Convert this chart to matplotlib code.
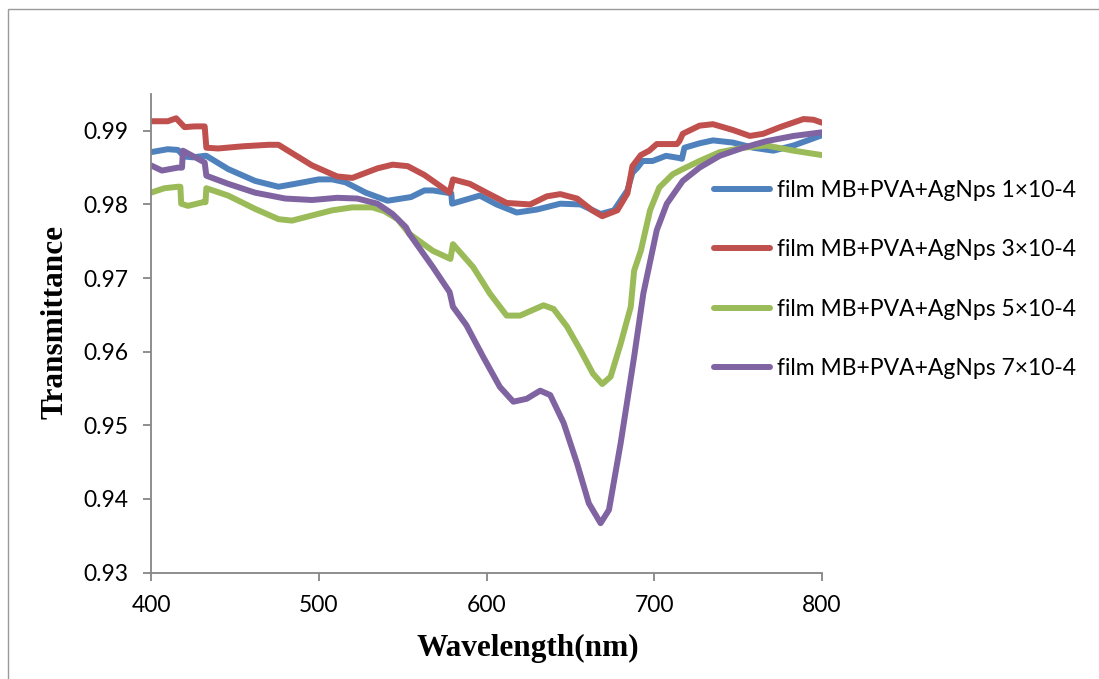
import numpy as np
import matplotlib
matplotlib.use("Agg")
import matplotlib.pyplot as plt
from matplotlib.patches import Rectangle

# wavelength (nm) / transmittance
wl_1 = [400, 410, 416, 420, 425, 432, 433, 446, 462, 476, 486, 500, 508, 516, 528, 541, 555, 563,
        568, 579, 579.5, 596, 606, 618, 630, 644, 656, 668, 676, 684, 687, 690, 693, 699, 707, 715,
        716.5, 718, 727, 735, 747, 759, 771, 783, 800]
tr_1 = [0.9871, 0.9875, 0.9874, 0.9865, 0.9864, 0.9866, 0.9866, 0.9848, 0.9832, 0.9824, 0.9828,
        0.9834, 0.9834, 0.9830, 0.9816, 0.9805, 0.9810, 0.9819, 0.9819, 0.9815, 0.9801, 0.9812,
        0.9800, 0.9789, 0.9793, 0.9801, 0.9800, 0.9787, 0.9792, 0.9819, 0.9843, 0.9850, 0.9859,
        0.9859, 0.9866, 0.9863, 0.9862, 0.9877, 0.9883, 0.9887, 0.9884, 0.9877, 0.9873, 0.9880,
        0.9894]

wl_3 = [400, 410, 415, 420, 426, 432, 433, 440, 455, 470, 476, 496, 511, 520, 535, 544, 553, 563,
        578, 580, 590, 600, 612, 626, 636, 644, 654, 663, 669, 678, 684, 687, 692, 697, 701.5,
        713.5, 715, 717, 727, 735, 747, 757, 765, 775, 789, 795, 800]
tr_3 = [0.9913, 0.9913, 0.9917, 0.9905, 0.9906, 0.9906, 0.9877, 0.9876, 0.9879, 0.9881, 0.9881,
        0.9853, 0.9838, 0.9836, 0.9849, 0.9854, 0.9852, 0.9840, 0.9816, 0.9834, 0.9828, 0.9816,
        0.9802, 0.9800, 0.9811, 0.9814, 0.9808, 0.9792, 0.9784, 0.9792, 0.9815, 0.9852, 0.9867,
        0.9873, 0.9882, 0.9882, 0.9886, 0.9896, 0.9907, 0.9909, 0.9901, 0.9893, 0.9896, 0.9905,
        0.9916, 0.9915, 0.9911]

wl_5 = [400, 408, 416, 417.5, 418, 422, 431, 432.5, 433, 446, 462, 476, 484, 496, 508, 520, 532,
        539, 547, 554, 568, 578.5, 580, 592, 602, 612, 620, 634, 640, 648, 656, 663.5, 669, 674,
        680, 686, 688, 692, 697.5, 703, 711, 717, 727, 739, 753, 767, 783, 800]
tr_5 = [0.9816, 0.9822, 0.9824, 0.9824, 0.9801, 0.9798, 0.9803, 0.9803, 0.9822, 0.9812, 0.9794,
        0.9780, 0.9778, 0.9785, 0.9792, 0.9796, 0.9796, 0.9791, 0.9780, 0.9760, 0.9737, 0.9726,
        0.9746, 0.9715, 0.9679, 0.9649, 0.9649, 0.9663, 0.9658, 0.9634, 0.9602, 0.9570, 0.9556,
        0.9566, 0.9611, 0.9661, 0.9710, 0.9737, 0.9792, 0.9823, 0.9841, 0.9848, 0.9859, 0.9871,
        0.9877, 0.9880, 0.9873, 0.9867]

wl_7 = [400, 406.5, 416, 418.5, 419, 432, 433, 446, 462, 480, 496, 511, 523, 535, 544, 552, 554,
        568, 578, 580, 588, 598, 608, 616, 624, 632, 638, 646, 654, 661, 668, 673, 680, 688, 693.5,
        701.5, 707.5, 717, 727, 739, 753, 767, 783, 800]
tr_7 = [0.9853, 0.9846, 0.9850, 0.9850, 0.9873, 0.9857, 0.9839, 0.9828, 0.9816, 0.9808, 0.9806,
        0.9809, 0.9808, 0.9801, 0.9787, 0.9769, 0.9760, 0.9715, 0.9681, 0.9661, 0.9636, 0.9593,
        0.9552, 0.9532, 0.9536, 0.9547, 0.9541, 0.9503, 0.9448, 0.9394, 0.9367, 0.9385, 0.9476,
        0.9593, 0.9679, 0.9765, 0.9801, 0.9832, 0.9850, 0.9866, 0.9877, 0.9886, 0.9893, 0.9898]

labels = ["film MB+PVA+AgNps 1×10-4", "film MB+PVA+AgNps 3×10-4",
          "film MB+PVA+AgNps 5×10-4", "film MB+PVA+AgNps 7×10-4"]
colors = ["#4F81BD", "#C0504D", "#9BBB59", "#8064A2"]

x_ticks = [400, 500, 600, 700, 800]
y_ticks = [0.93, 0.94, 0.95, 0.96, 0.97, 0.98, 0.99]

plt.rcParams["font.family"] = ["Lato", "DejaVu Sans"]

fig = plt.figure(figsize=(10.99, 6.79), dpi=100)
ax = fig.add_axes([151 / 1099, 1 - 572.5 / 679, 671 / 1099, 478.5 / 679])

series = [(wl_1, tr_1), (wl_3, tr_3), (wl_5, tr_5), (wl_7, tr_7)]
for (wl, tr), lab, c in zip(series, labels, colors):
    ax.plot(wl, tr, color=c, lw=4.3, label=lab, solid_capstyle="round", solid_joinstyle="round")

ax.set_xlim(400, 800)
ax.set_ylim(0.93, 0.995)
ax.set_xticks(x_ticks)
ax.set_yticks(y_ticks)
ax.set_xticklabels([str(v) for v in x_ticks])
ax.set_yticklabels([f"{v:.2f}" for v in y_ticks])

gray = "#868686"
for s in ["top", "right"]:
    ax.spines[s].set_visible(False)
for s in ["left", "bottom"]:
    ax.spines[s].set_color(gray)
    ax.spines[s].set_linewidth(1.3)
ax.tick_params(direction="out", length=6, width=1.3, color=gray, labelsize=16.5, pad=10)

ax.set_xlabel("Wavelength(nm)", family="Liberation Serif", fontweight="bold", fontsize=22.5)
ax.xaxis.set_label_coords((528 - 151) / 671, (572.5 - 648) / 478.5)
ax.xaxis.label.set_va("center")
ax.set_ylabel("Transmittance", family="Liberation Serif", fontweight="bold", fontsize=22.5)
ax.yaxis.set_label_coords((55 - 151) / 671, (572.5 - 322) / 478.5)
ax.yaxis.label.set_va("center")

ax.legend(loc="upper left", bbox_to_anchor=(714 / 1099, 1 - 180 / 679),
          bbox_transform=fig.transFigure, frameon=False, fontsize=16.5,
          handlelength=2.45, handletextpad=0.3, labelspacing=1.68, borderpad=0, borderaxespad=0)

# outer chart border (only left and top edges are inside the picture)
fig.patches.append(Rectangle((8 / 1099, -0.1), 1.2, 1.1 - 9 / 679, transform=fig.transFigure,
                             fill=False, edgecolor="#9a9a9a", lw=1))

fig.savefig("out.png", dpi=100)
